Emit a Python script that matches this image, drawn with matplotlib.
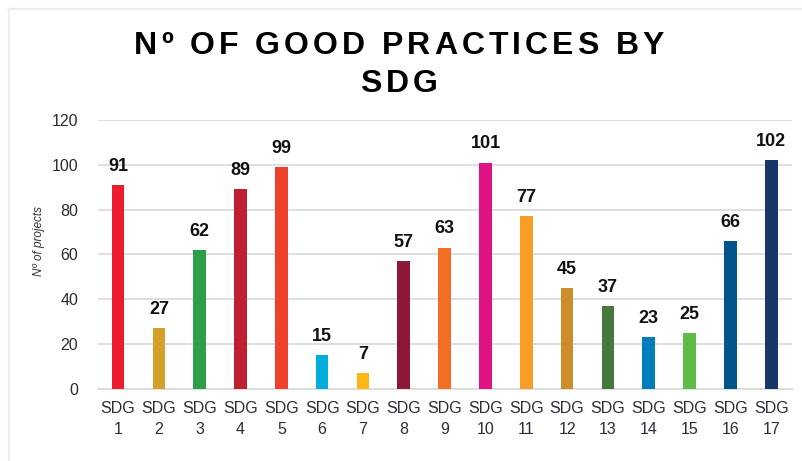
import matplotlib
matplotlib.use("Agg")
import matplotlib.pyplot as plt
from matplotlib.lines import Line2D
from matplotlib.font_manager import FontProperties, findfont, get_font

plt.rcParams['font.family'] = ['Liberation Sans', 'DejaVu Sans']

categories = [f"SDG\n{i}" for i in range(1, 18)]
values = [91, 27, 62, 89, 99, 15, 7, 57, 63, 101, 77, 45, 37, 23, 25, 66, 102]
colors = ["#ED1C2E", "#D4A02A", "#2E9E48", "#C01F32", "#EF402C", "#00AEDB",
          "#FDB714", "#8F1838", "#F36D25", "#E11384", "#F99D26", "#CF8D2A",
          "#48773E", "#007DBC", "#5DBB46", "#02558B", "#183668"]
y_ticks = [0, 20, 40, 60, 80, 100, 120]
title_lines = ["Nº OF GOOD PRACTICES BY", "SDG"]

W, H, DPI = 803, 461, 100
fig = plt.figure(figsize=(W / DPI, H / DPI), dpi=DPI)
ax = fig.add_axes([0.1216, 0.1562, 0.8642, 0.5835])

x = range(len(categories))
ax.bar(x, values, width=0.31, color=colors, zorder=3)
for xi, v in zip(x, values):
    ax.annotate(str(v), (xi, v), xytext=(0, 7.5), textcoords="offset points",
                ha="center", va="bottom", fontsize=13, fontweight="bold",
                color="#111111")

ax.set_xlim(-0.5, len(categories) - 0.5)
ax.set_ylim(0, 120)
ax.set_yticks(y_ticks)
ax.set_xticks(list(x))
ax.set_xticklabels(categories, fontsize=11.5, color="#2b2b3a", linespacing=1.45)
ax.tick_params(axis="y", labelsize=11.5, colors="#2b2b2b", length=0, pad=14)
ax.tick_params(axis="x", length=0, pad=9)
ax.yaxis.grid(True, color="#D9D9D9", linewidth=1.2, zorder=0)
for side in ("left", "right", "top"):
    ax.spines[side].set_visible(False)
ax.spines["bottom"].set_color("#D9D9D9")
ax.spines["bottom"].set_linewidth(1.2)
ax.set_ylabel("Nº of projects", fontsize=8.5, style="italic", color="#333333")
ax.yaxis.set_label_coords(-0.076, 0.55)


def tracked_text(line, cx_px, baseline_px, size, tracking_px):
    """Draw one centred line of text with extra spacing between letters."""
    fp = FontProperties(family="Liberation Sans", weight="bold", size=size)
    font = get_font(findfont(fp))
    font.set_size(size, DPI)
    advances = []
    for ch in line:
        glyph = font.load_char(ord(ch))
        advances.append(glyph.linearHoriAdvance / 65536)
    total = sum(advances) + tracking_px * (len(line) - 1)
    pos = cx_px - total / 2
    for ch, adv in zip(line, advances):
        fig.text((pos + adv / 2) / W, 1 - baseline_px / H, ch, ha="center",
                 va="baseline", fontproperties=fp, color="#000000")
        pos += adv + tracking_px


tracked_text(title_lines[0], 399, 54, 23, 4.0)
tracked_text(title_lines[1], 399, 92, 23, 4.0)

# frame edges along the top and left
fig.add_artist(Line2D([8 / W, 1], [1 - 9 / H, 1 - 9 / H],
                      transform=fig.transFigure, color="#EEEEEE", linewidth=1.5))
fig.add_artist(Line2D([9 / W, 9 / W], [0, 1 - 9 / H],
                      transform=fig.transFigure, color="#EEEEEE", linewidth=1.5))

fig.savefig("out.png", dpi=DPI)
